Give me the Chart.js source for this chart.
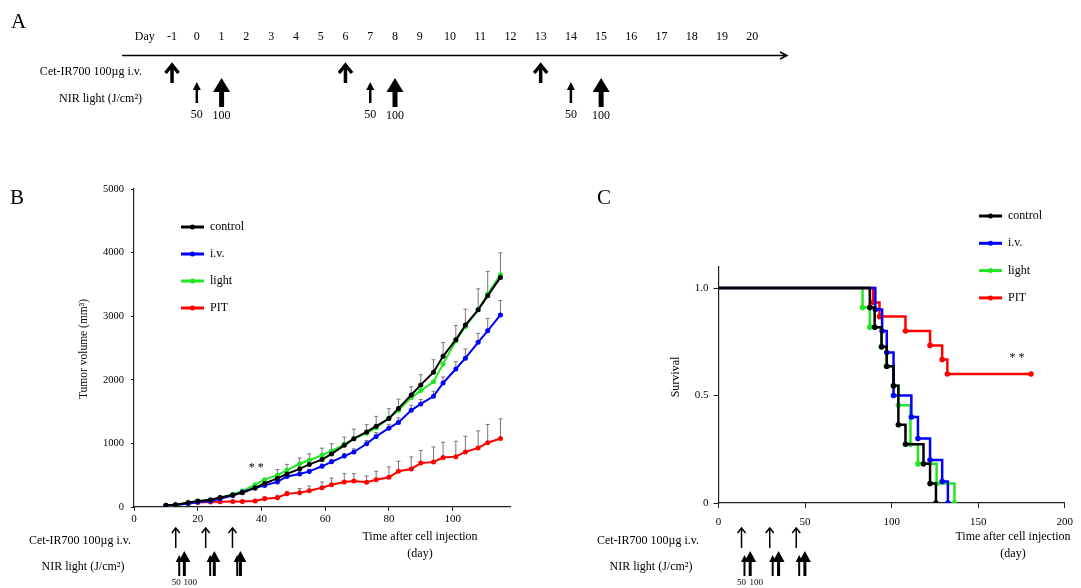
<!DOCTYPE html>
<html>
<head>
<meta charset="utf-8">
<script src="https://cdn.jsdelivr.net/npm/chart.js@4.4.1/dist/chart.umd.min.js"></script>
<style>
  html, body { margin: 0; padding: 0; background: #fff; }
  #wrap { position: relative; width: 1081px; height: 588px; overflow: hidden; background: #fff; }
  canvas { position: absolute; }
</style>
</head>
<body>
<div id="wrap">
  <canvas id="chartA" width="810" height="130" style="left:0;top:0;width:810px;height:130px"></canvas>
  <canvas id="chartB" width="560" height="458" style="left:0;top:130px;width:560px;height:458px"></canvas>
  <canvas id="chartC" width="521" height="458" style="left:560px;top:130px;width:521px;height:458px"></canvas>
</div>
<script>
// ---- panel A: treatment schedule ----
const scheduleDays = [-1, 0, 1, 2, 3, 4, 5, 6, 7, 8, 9, 10, 11, 12, 13, 14, 15, 16, 17, 18, 19, 20];
const cetDaysA = [-1, 6, 13];
const nir50DaysA = [0, 7, 14];
const nir100DaysA = [1, 8, 15];

// ---- panel B: tumor volume ----
const measureDays = [10, 13, 17, 20, 24, 27, 31, 34, 38, 41, 45, 48, 52, 55, 59, 62, 66, 69, 73, 76, 80, 83, 87, 90, 94, 97, 101, 104, 108, 111, 115];
const controlVol = [26, 37, 70, 95, 115, 150, 190, 225, 300, 370, 450, 520, 600, 670, 745, 835, 970, 1075, 1180, 1270, 1390, 1550, 1760, 1920, 2120, 2370, 2630, 2860, 3100, 3320, 3610];
const controlSd = [5, 8, 12, 15, 18, 22, 28, 35, 45, 60, 140, 150, 170, 165, 180, 160, 130, 150, 115, 155, 155, 145, 130, 160, 195, 215, 225, 250, 330, 385, 385];
const ivVol = [20, 30, 55, 80, 95, 130, 180, 235, 300, 340, 395, 480, 520, 560, 640, 710, 800, 865, 995, 1110, 1240, 1330, 1520, 1620, 1740, 1950, 2170, 2340, 2590, 2770, 3020];
const ivSd = [4, 5, 8, 10, 12, 15, 18, 20, 25, 30, 30, 35, 35, 35, 35, 40, 40, 50, 50, 60, 60, 70, 80, 70, 80, 95, 115, 145, 140, 195, 225];
const lightVol = [10, 30, 55, 85, 105, 145, 200, 250, 350, 430, 500, 580, 680, 735, 815, 880, 985, 1075, 1160, 1245, 1400, 1520, 1720, 1830, 1970, 2250, 2610, 2840, 3100, 3350, 3650];
const pitVol = [26, 37, 55, 70, 79, 84, 88, 88, 94, 130, 147, 210, 226, 257, 304, 350, 394, 409, 388, 430, 467, 561, 598, 690, 708, 777, 792, 866, 929, 1010, 1076];
const pitSd = [4, 5, 8, 10, 10, 12, 12, 12, 15, 30, 37, 37, 63, 73, 89, 104, 131, 116, 100, 131, 163, 158, 189, 199, 236, 241, 242, 246, 267, 288, 309];
const volumeTicks = [0, 1000, 2000, 3000, 4000, 5000];
const dayTicksB = [0, 20, 40, 60, 80, 100];
const cetDaysB = [13.1, 22.5, 30.9];
const nir50DaysB = [14.2, 23.9, 32.4];
const nir100DaysB = [15.8, 25.2, 33.4];

// ---- panel C: survival ----
const controlSurvDays = [0, 87.4, 90.2, 94.2, 97.2, 101.1, 103.9, 108, 118.4, 122.2, 125.6];
const controlSurv = [1, 0.909, 0.818, 0.727, 0.636, 0.545, 0.364, 0.273, 0.182, 0.091, 0];
const ivSurvDays = [0, 90.6, 94.5, 97.2, 101.1, 111.4, 115.2, 122.2, 129.2, 132.5];
const ivSurv = [1, 0.9, 0.8, 0.7, 0.5, 0.4, 0.3, 0.2, 0.1, 0];
const lightSurvDays = [0, 83.2, 87.4, 94, 97, 101, 103.9, 110.9, 115.2, 126, 136.3];
const lightSurv = [1, 0.909, 0.818, 0.727, 0.636, 0.545, 0.455, 0.273, 0.182, 0.091, 0];
const pitSurvDays = [0, 89.3, 93, 108, 122.2, 129.2, 132.2, 180.5];
const pitSurv = [1, 0.933, 0.867, 0.8, 0.733, 0.667, 0.6, 0.6];
const survivalTicks = [0, 0.5, 1];
const survivalTickLabels = ['0', '0.5', '1.0'];
const dayTicksC = [0, 50, 100, 150, 200];
const cetDaysC = [13.3, 29.6, 44.9];
const nir50DaysC = [15, 31.3, 46.6];
const nir100DaysC = [18.3, 34.7, 49.9];

const groupNames = ['control', 'i.v.', 'light', 'PIT'];
const groupColors = ['#000000', '#0000ff', '#22e622', '#ff0000'];

const FONT = "'Liberation Serif', 'Times New Roman', serif";
Chart.defaults.font.family = FONT;
Chart.defaults.color = '#000';

function putText(ctx, str, x, y, size, align, rotate) {
  ctx.save();
  ctx.font = size + 'px ' + FONT;
  ctx.fillStyle = '#000';
  ctx.textAlign = align || 'center';
  ctx.textBaseline = 'middle';
  ctx.translate(x, y);
  if (rotate) ctx.rotate(rotate);
  ctx.fillText(str, 0, 0);
  ctx.restore();
}

// open "chevron" arrow
function chevronArrow(ctx, x, top, bottom, half, headH, lw) {
  ctx.save();
  ctx.strokeStyle = '#000';
  ctx.lineWidth = lw;
  ctx.beginPath();
  ctx.moveTo(x, top + lw * 0.5);
  ctx.lineTo(x, bottom);
  ctx.stroke();
  ctx.beginPath();
  ctx.moveTo(x - half, top + headH);
  ctx.lineTo(x, top);
  ctx.lineTo(x + half, top + headH);
  ctx.stroke();
  ctx.restore();
}

// filled head arrow
function solidArrow(ctx, x, top, bottom, half, headH, lw) {
  ctx.save();
  ctx.strokeStyle = '#000';
  ctx.fillStyle = '#000';
  ctx.lineWidth = lw;
  ctx.beginPath();
  ctx.moveTo(x, top + headH - 1);
  ctx.lineTo(x, bottom);
  ctx.stroke();
  ctx.beginPath();
  ctx.moveTo(x - half, top + headH);
  ctx.lineTo(x, top);
  ctx.lineTo(x + half, top + headH);
  ctx.closePath();
  ctx.fill();
  ctx.restore();
}

// day axis of panel A is drawn wider after day 9, like the original sketch
const warpDay = d => (d <= 9 ? d : 9 + (d - 9) * 1.22);
class DayScale extends Chart.LinearScale {
  getPixelForValue(v) {
    return super.getPixelForValue(warpDay(v));
  }
}
DayScale.id = 'dayscale';
DayScale.defaults = Chart.LinearScale.defaults;
Chart.register(DayScale);

const timelinePlugin = {
  id: 'timeline',
  afterDraw(chart) {
    const ctx = chart.ctx;
    const area = chart.chartArea;
    const y = area.top + 0.5;
    // main line with arrow head
    ctx.save();
    ctx.strokeStyle = '#000';
    ctx.lineWidth = 1.5;
    ctx.beginPath();
    ctx.moveTo(area.left, y);
    ctx.lineTo(area.right, y);
    ctx.moveTo(area.right - 7, y - 3.5);
    ctx.lineTo(area.right, y);
    ctx.lineTo(area.right - 7, y + 3.5);
    ctx.stroke();
    ctx.restore();

    putText(ctx, 'A', 11, 22, 21, 'left');
    putText(ctx, 'Cet-IR700 100\u00b5g i.v.', 142, 72, 12, 'right');
    putText(ctx, 'NIR light (J/cm\u00b2)', 142, 99, 12, 'right');

    chart.data.datasets.forEach((ds, i) => {
      chart.getDatasetMeta(i).data.forEach(pt => {
        if (ds.arrow === 'cet') {
          chevronArrow(ctx, pt.x, 65, 83, 6.5, 8, 3.5);
        } else if (ds.arrow === 'nir50') {
          solidArrow(ctx, pt.x, 82, 103, 4, 8, 2.5);
          putText(ctx, '50', pt.x, 115, 12);
        } else {
          solidArrow(ctx, pt.x, 78, 107, 8.5, 14, 5);
          putText(ctx, '100', pt.x, 116, 12);
        }
      });
    });
  }
};

new Chart(document.getElementById('chartA'), {
  type: 'scatter',
  data: {
    datasets: [
      { label: 'Cet-IR700', arrow: 'cet', data: cetDaysA.map(d => ({ x: d, y: 1 })) },
      { label: 'NIR 50', arrow: 'nir50', data: nir50DaysA.map(d => ({ x: d, y: 2 })) },
      { label: 'NIR 100', arrow: 'nir100', data: nir100DaysA.map(d => ({ x: d, y: 2 })) }
    ]
  },
  options: {
    responsive: false,
    animation: false,
    devicePixelRatio: 1,
    events: [],
    layout: { padding: { left: 122, right: 23, top: 0, bottom: 0 } },
    elements: { point: { radius: 0, hoverRadius: 0 } },
    plugins: { legend: { display: false }, tooltip: { enabled: false } },
    scales: {
      x: {
        type: 'dayscale',
        position: 'top',
        min: -3.02,
        max: warpDay(21.15),
        grid: { display: false },
        border: { display: false },
        afterFit: s => { s.height = 55; },
        afterBuildTicks: s => {
          s.ticks = [{ value: -2.1 }].concat(scheduleDays.map(d => ({ value: d })));
        },
        ticks: {
          autoSkip: false,
          maxRotation: 0,
          padding: 3,
          font: { size: 12 },
          color: '#000',
          callback: v => (v === -2.1 ? 'Day' : String(v))
        }
      },
      y: { display: false, min: 0, max: 3 }
    }
  },
  plugins: [timelinePlugin]
});

// ---- shared plugins for B and C ----
const seriesKey = {
  id: 'seriesKey',
  afterDraw(chart, args, opts) {
    const ctx = chart.ctx;
    chart.data.datasets.forEach((ds, i) => {
      const y = opts.y + i * opts.dy;
      ctx.save();
      ctx.strokeStyle = ds.borderColor;
      ctx.lineWidth = 3;
      ctx.beginPath();
      ctx.moveTo(opts.x, y);
      ctx.lineTo(opts.x + 23, y);
      ctx.stroke();
      ctx.fillStyle = ds.borderColor;
      ctx.beginPath();
      ctx.arc(opts.x + 11.5, y, 2.5, 0, Math.PI * 2);
      ctx.fill();
      ctx.restore();
      putText(ctx, ds.label, opts.x + 29, y, 12, 'left');
    });
  }
};

const upperBars = {
  id: 'upperBars',
  beforeDatasetsDraw(chart) {
    const ctx = chart.ctx;
    const ys = chart.scales.y;
    chart.data.datasets.forEach((ds, i) => {
      if (!ds.sd) return;
      const meta = chart.getDatasetMeta(i);
      ctx.save();
      ctx.strokeStyle = '#777';
      ctx.lineWidth = 1;
      meta.data.forEach((pt, j) => {
        const top = ys.getPixelForValue(ds.data[j].y + ds.sd[j]);
        ctx.beginPath();
        ctx.moveTo(pt.x, pt.y);
        ctx.lineTo(pt.x, top);
        ctx.moveTo(pt.x - 2, top);
        ctx.lineTo(pt.x + 2, top);
        ctx.stroke();
      });
      ctx.restore();
    });
  }
};

const panelNotes = {
  id: 'panelNotes',
  afterDraw(chart, args, o) {
    const ctx = chart.ctx;
    const xs = chart.scales.x;
    const ys = chart.scales.y;
    putText(ctx, o.letter, o.letterX, 68, 21, 'left');
    putText(ctx, o.yTitle, o.yTitleX, o.yTitleY, o.yTitleSize, 'center', -Math.PI / 2);
    putText(ctx, 'Time after cell injection', o.xTitleX, 407, 12);
    putText(ctx, '(day)', o.xTitleX, 424, 12);
    putText(ctx, 'Cet-IR700 100\u00b5g i.v.', o.rowX, 411, 12);
    putText(ctx, 'NIR light (J/cm\u00b2)', o.rowX + 3, 437, 12);
    o.cet.forEach(d => chevronArrow(ctx, xs.getPixelForValue(d), 398, 418, 4, 5, 1.5));
    o.nir50.forEach(d => solidArrow(ctx, xs.getPixelForValue(d), 425, 446, 3.5, 7, 2));
    o.nir100.forEach(d => solidArrow(ctx, xs.getPixelForValue(d), 421, 446, 6, 11, 3));
    putText(ctx, '50', xs.getPixelForValue(o.nir50[0]) - 3, 453, 9);
    putText(ctx, '100', xs.getPixelForValue(o.nir100[0]) + 6, 453, 9);
    putText(ctx, '* *', xs.getPixelForValue(o.star[0]), ys.getPixelForValue(o.star[1]), 12);
  }
};

function axisStyle(extra) {
  return Object.assign({
    type: 'linear',
    grid: { drawOnChartArea: false, color: '#222', tickLength: 4, tickWidth: 1 },
    border: { color: '#222', width: 1.2 },
    ticks: { autoSkip: false, maxRotation: 0, color: '#000' }
  }, extra);
}

// ---- panel B ----
const volumeSeries = [
  { values: controlVol, sd: controlSd },
  { values: ivVol, sd: ivSd },
  { values: lightVol, sd: null },
  { values: pitVol, sd: pitSd }
];

new Chart(document.getElementById('chartB'), {
  type: 'line',
  data: {
    datasets: volumeSeries.map((s, i) => ({
      label: groupNames[i],
      data: measureDays.map((d, j) => ({ x: d, y: s.values[j] })),
      sd: s.sd,
      borderColor: groupColors[i],
      backgroundColor: groupColors[i],
      borderWidth: 2,
      pointRadius: 2.5,
      pointBorderWidth: 0,
      tension: 0
    }))
  },
  options: {
    responsive: false,
    animation: false,
    devicePixelRatio: 1,
    events: [],
    layout: { padding: { left: 0, right: 50, top: 59, bottom: 0 } },
    plugins: {
      legend: { display: false },
      tooltip: { enabled: false },
      seriesKey: { x: 181, y: 97, dy: 27 },
      panelNotes: {
        letter: 'B', letterX: 10,
        yTitle: 'Tumor volume (mm\u00b3)', yTitleX: 84, yTitleY: 219, yTitleSize: 11.5,
        xTitleX: 420, rowX: 80,
        cet: cetDaysB, nir50: nir50DaysB, nir100: nir100DaysB,
        star: [38.4, 613]
      }
    },
    scales: {
      x: axisStyle({
        min: 0, max: 118,
        afterBuildTicks: s => { s.ticks = dayTicksB.map(v => ({ value: v })); },
        afterFit: s => { s.height = 81; },
        ticks: { autoSkip: false, maxRotation: 0, color: '#000', padding: 2, font: { size: 11 } }
      }),
      y: axisStyle({
        min: 0, max: 5000,
        grid: { drawOnChartArea: false, color: '#222', tickLength: 3 },
        afterBuildTicks: s => { s.ticks = volumeTicks.map(v => ({ value: v })); },
        afterFit: s => { s.width = 134; },
        ticks: {
          autoSkip: false, color: '#000', padding: 7, font: { size: 10.5 },
          callback: v => String(v)
        }
      })
    }
  },
  plugins: [upperBars, seriesKey, panelNotes]
});

// ---- panel C ----
const survivalSeries = [
  { days: controlSurvDays, values: controlSurv },
  { days: ivSurvDays, values: ivSurv },
  { days: lightSurvDays, values: lightSurv },
  { days: pitSurvDays, values: pitSurv }
];

new Chart(document.getElementById('chartC'), {
  type: 'line',
  data: {
    datasets: survivalSeries.map((s, i) => ({
      label: groupNames[i],
      data: s.days.map((d, j) => ({ x: d, y: s.values[j] })),
      borderColor: groupColors[i],
      backgroundColor: groupColors[i],
      borderWidth: 2.5,
      stepped: 'before',
      pointRadius: c => (c.dataIndex === 0 ? 0 : 2.8),
      pointBorderWidth: 0
    }))
  },
  options: {
    responsive: false,
    animation: false,
    devicePixelRatio: 1,
    events: [],
    layout: { padding: { left: 0, right: 8, top: 136.5, bottom: 0 } },
    plugins: {
      legend: { display: false },
      tooltip: { enabled: false },
      seriesKey: { x: 419, y: 86, dy: 27.3 },
      panelNotes: {
        letter: 'C', letterX: 37,
        yTitle: 'Survival', yTitleX: 116, yTitleY: 247, yTitleSize: 12,
        xTitleX: 453, rowX: 88,
        cet: cetDaysC, nir50: nir50DaysC, nir100: nir100DaysC,
        star: [172.4, 0.674]
      }
    },
    scales: {
      x: axisStyle({
        min: 0, max: 200,
        grid: { drawOnChartArea: false, color: '#222', tickLength: 5 },
        afterBuildTicks: s => { s.ticks = dayTicksC.map(v => ({ value: v })); },
        afterFit: s => { s.height = 85; },
        ticks: { autoSkip: false, maxRotation: 0, color: '#000', padding: 8, font: { size: 11 } }
      }),
      y: axisStyle({
        min: 0, max: 1.1,
        grid: { drawOnChartArea: false, color: '#222', tickLength: 5 },
        afterBuildTicks: s => { s.ticks = survivalTicks.map(v => ({ value: v })); },
        afterFit: s => { s.width = 158.5; },
        ticks: {
          autoSkip: false, color: '#000', padding: 5, font: { size: 11 },
          callback: (v, idx) => survivalTickLabels[idx]
        }
      })
    }
  },
  plugins: [seriesKey, panelNotes]
});
</script>
</body>
</html>
